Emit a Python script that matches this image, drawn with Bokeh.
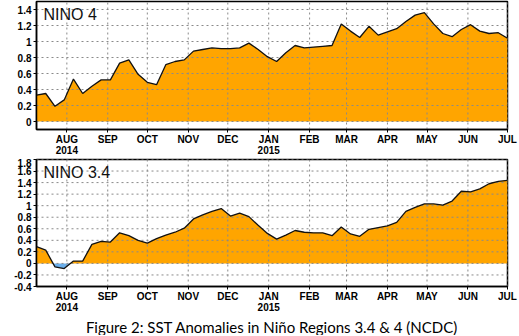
import numpy as np
import pandas as pd
from bokeh.plotting import figure
from bokeh.layouts import column
from bokeh.models import FixedTicker, Range1d, Label, Title, NumeralTickFormatter
from bokeh.embed import file_html
from bokeh.resources import INLINE

# ---------------- data ----------------
week_start = "2014-07-09"
n_weeks = 52
nino4 = [0.33, 0.35, 0.19, 0.27, 0.53, 0.35, 0.44, 0.52, 0.52, 0.73,
         0.77, 0.59, 0.49, 0.46, 0.71, 0.75, 0.77, 0.88, 0.90, 0.92,
         0.91, 0.91, 0.92, 0.98, 0.90, 0.81, 0.75, 0.86, 0.95, 0.92,
         0.93, 0.94, 0.95, 1.22, 1.13, 1.05, 1.19, 1.08, 1.12, 1.16,
         1.25, 1.33, 1.36, 1.22, 1.10, 1.06, 1.15, 1.21, 1.13, 1.10,
         1.11, 1.04]
nino34 = [0.29, 0.23, -0.06, -0.09, 0.04, 0.04, 0.33, 0.38, 0.37, 0.53,
          0.48, 0.40, 0.35, 0.43, 0.49, 0.54, 0.61, 0.77, 0.84, 0.90,
          0.95, 0.82, 0.87, 0.81, 0.66, 0.52, 0.42, 0.49, 0.57, 0.54,
          0.53, 0.53, 0.48, 0.63, 0.51, 0.47, 0.59, 0.62, 0.65, 0.71,
          0.90, 0.97, 1.03, 1.03, 1.01, 1.08, 1.25, 1.24, 1.29, 1.38,
          1.42, 1.44]
month_dates = ["2014-08-01", "2014-09-01", "2014-10-01", "2014-11-01", "2014-12-01",
               "2015-01-01", "2015-02-01", "2015-03-01", "2015-04-01", "2015-05-01",
               "2015-06-01", "2015-07-01"]
month_labels = ["AUG\n2014", "SEP", "OCT", "NOV", "DEC", "JAN\n2015",
                "FEB", "MAR", "APR", "MAY", "JUN", "JUL"]
nino4_yticks = [0, 0.2, 0.4, 0.6, 0.8, 1.0, 1.2, 1.4]
nino34_yticks = [-0.4, -0.2, 0, 0.2, 0.4, 0.6, 0.8, 1.0, 1.2, 1.4, 1.6, 1.8]
titles = ["NINO 4", "NINO 3.4"]
caption = "Figure 2: SST Anomalies in Niño Regions 3.4 & 4 (NCDC)"

ORANGE = "#FFA500"
BLUE = "#6AAEEA"
GRID = "#8a8a8a"


def to_ms(s):
    return float(pd.Timestamp(s).value // 10**6)


weeks = pd.date_range(week_start, periods=n_weeks, freq="7D")
xms = np.array([float(t.value // 10**6) for t in weeks])
tick_ms = [to_ms(d) for d in month_dates]
overrides = {t: lab for t, lab in zip(tick_ms, month_labels)}


def split_sign(xs, ys):
    X = [xs[0]]
    Y = [ys[0]]
    for i in range(1, len(xs)):
        y0, y1 = ys[i - 1], ys[i]
        if y0 * y1 < 0:
            t = y0 / (y0 - y1)
            X.append(xs[i - 1] + t * (xs[i] - xs[i - 1]))
            Y.append(0.0)
        X.append(xs[i])
        Y.append(ys[i])
    X = np.array(X)
    Y = np.array(Y)
    return X, np.maximum(Y, 0), np.minimum(Y, 0)


def make_panel(vals, yticks, yr, title, fh):
    p = figure(x_axis_type="datetime", output_backend="svg", toolbar_location=None,
               frame_width=471, frame_height=fh,
               x_range=Range1d(xms[0], xms[-1]), y_range=Range1d(*yr),
               min_border_left=36, min_border_right=12, min_border_top=1,
               min_border_bottom=0)
    p.background_fill_color = "white"
    p.border_fill_color = "white"
    X, pos, neg = split_sign(xms, np.array(vals, dtype=float))
    p.varea(x=X, y1=0, y2=pos, fill_color=ORANGE)
    p.varea(x=X, y1=0, y2=neg, fill_color=BLUE)

    # dotted grid drawn as glyphs over the fill, at the tick positions
    p.xgrid.visible = False
    p.ygrid.visible = False
    p.multi_line(xs=[[t, t] for t in tick_ms], ys=[[yr[0], yr[1]] for _ in tick_ms],
                 line_color=GRID, line_width=1, line_dash="2 3")
    p.multi_line(xs=[[xms[0], xms[-1]] for _ in yticks], ys=[[t, t] for t in yticks],
                 line_color=GRID, line_width=1, line_dash="2 3")

    p.line(xms, vals, line_color="#111111", line_width=1.3)

    p.xaxis.ticker = FixedTicker(ticks=tick_ms)
    p.xaxis.major_label_overrides = overrides
    p.yaxis.ticker = FixedTicker(ticks=yticks)
    p.yaxis.formatter = NumeralTickFormatter(format="0.[0]")
    for ax in (p.xaxis[0], p.yaxis[0]):
        ax.major_label_text_font = "Liberation Sans"
        ax.major_label_text_font_style = "bold"
        ax.major_label_text_font_size = "10px"
        ax.major_label_text_color = "black"
        ax.axis_line_color = "black"
        ax.axis_line_width = 1.5
        ax.major_tick_line_color = "black"
        ax.major_tick_in = 0
        ax.major_tick_out = 3
        ax.minor_tick_line_color = None
    p.xaxis.major_label_standoff = 1
    p.yaxis.major_label_standoff = 2
    p.xaxis.major_label_text_line_height = 1.0

    p.outline_line_color = "black"
    p.outline_line_width = 1.5

    p.add_layout(Label(x=7, y=fh - 4, x_units="screen", y_units="screen", text=title,
                       text_font="Liberation Sans", text_font_size="16px",
                       text_baseline="top", text_color="#111111"))
    return p


p1 = make_panel(nino4, nino4_yticks, (-0.1, 1.5), titles[0], 128)
p2 = make_panel(nino34, nino34_yticks, (-0.4, 1.8), titles[1], 127)
p2.add_layout(Title(text=caption, align="center", text_font="Lato",
                    text_font_size="15px", text_font_style="normal",
                    text_color="black", standoff=0, offset=0), "below")

layout = column(p1, p2, spacing=0)
open("out.html", "w").write(file_html(layout, INLINE))
